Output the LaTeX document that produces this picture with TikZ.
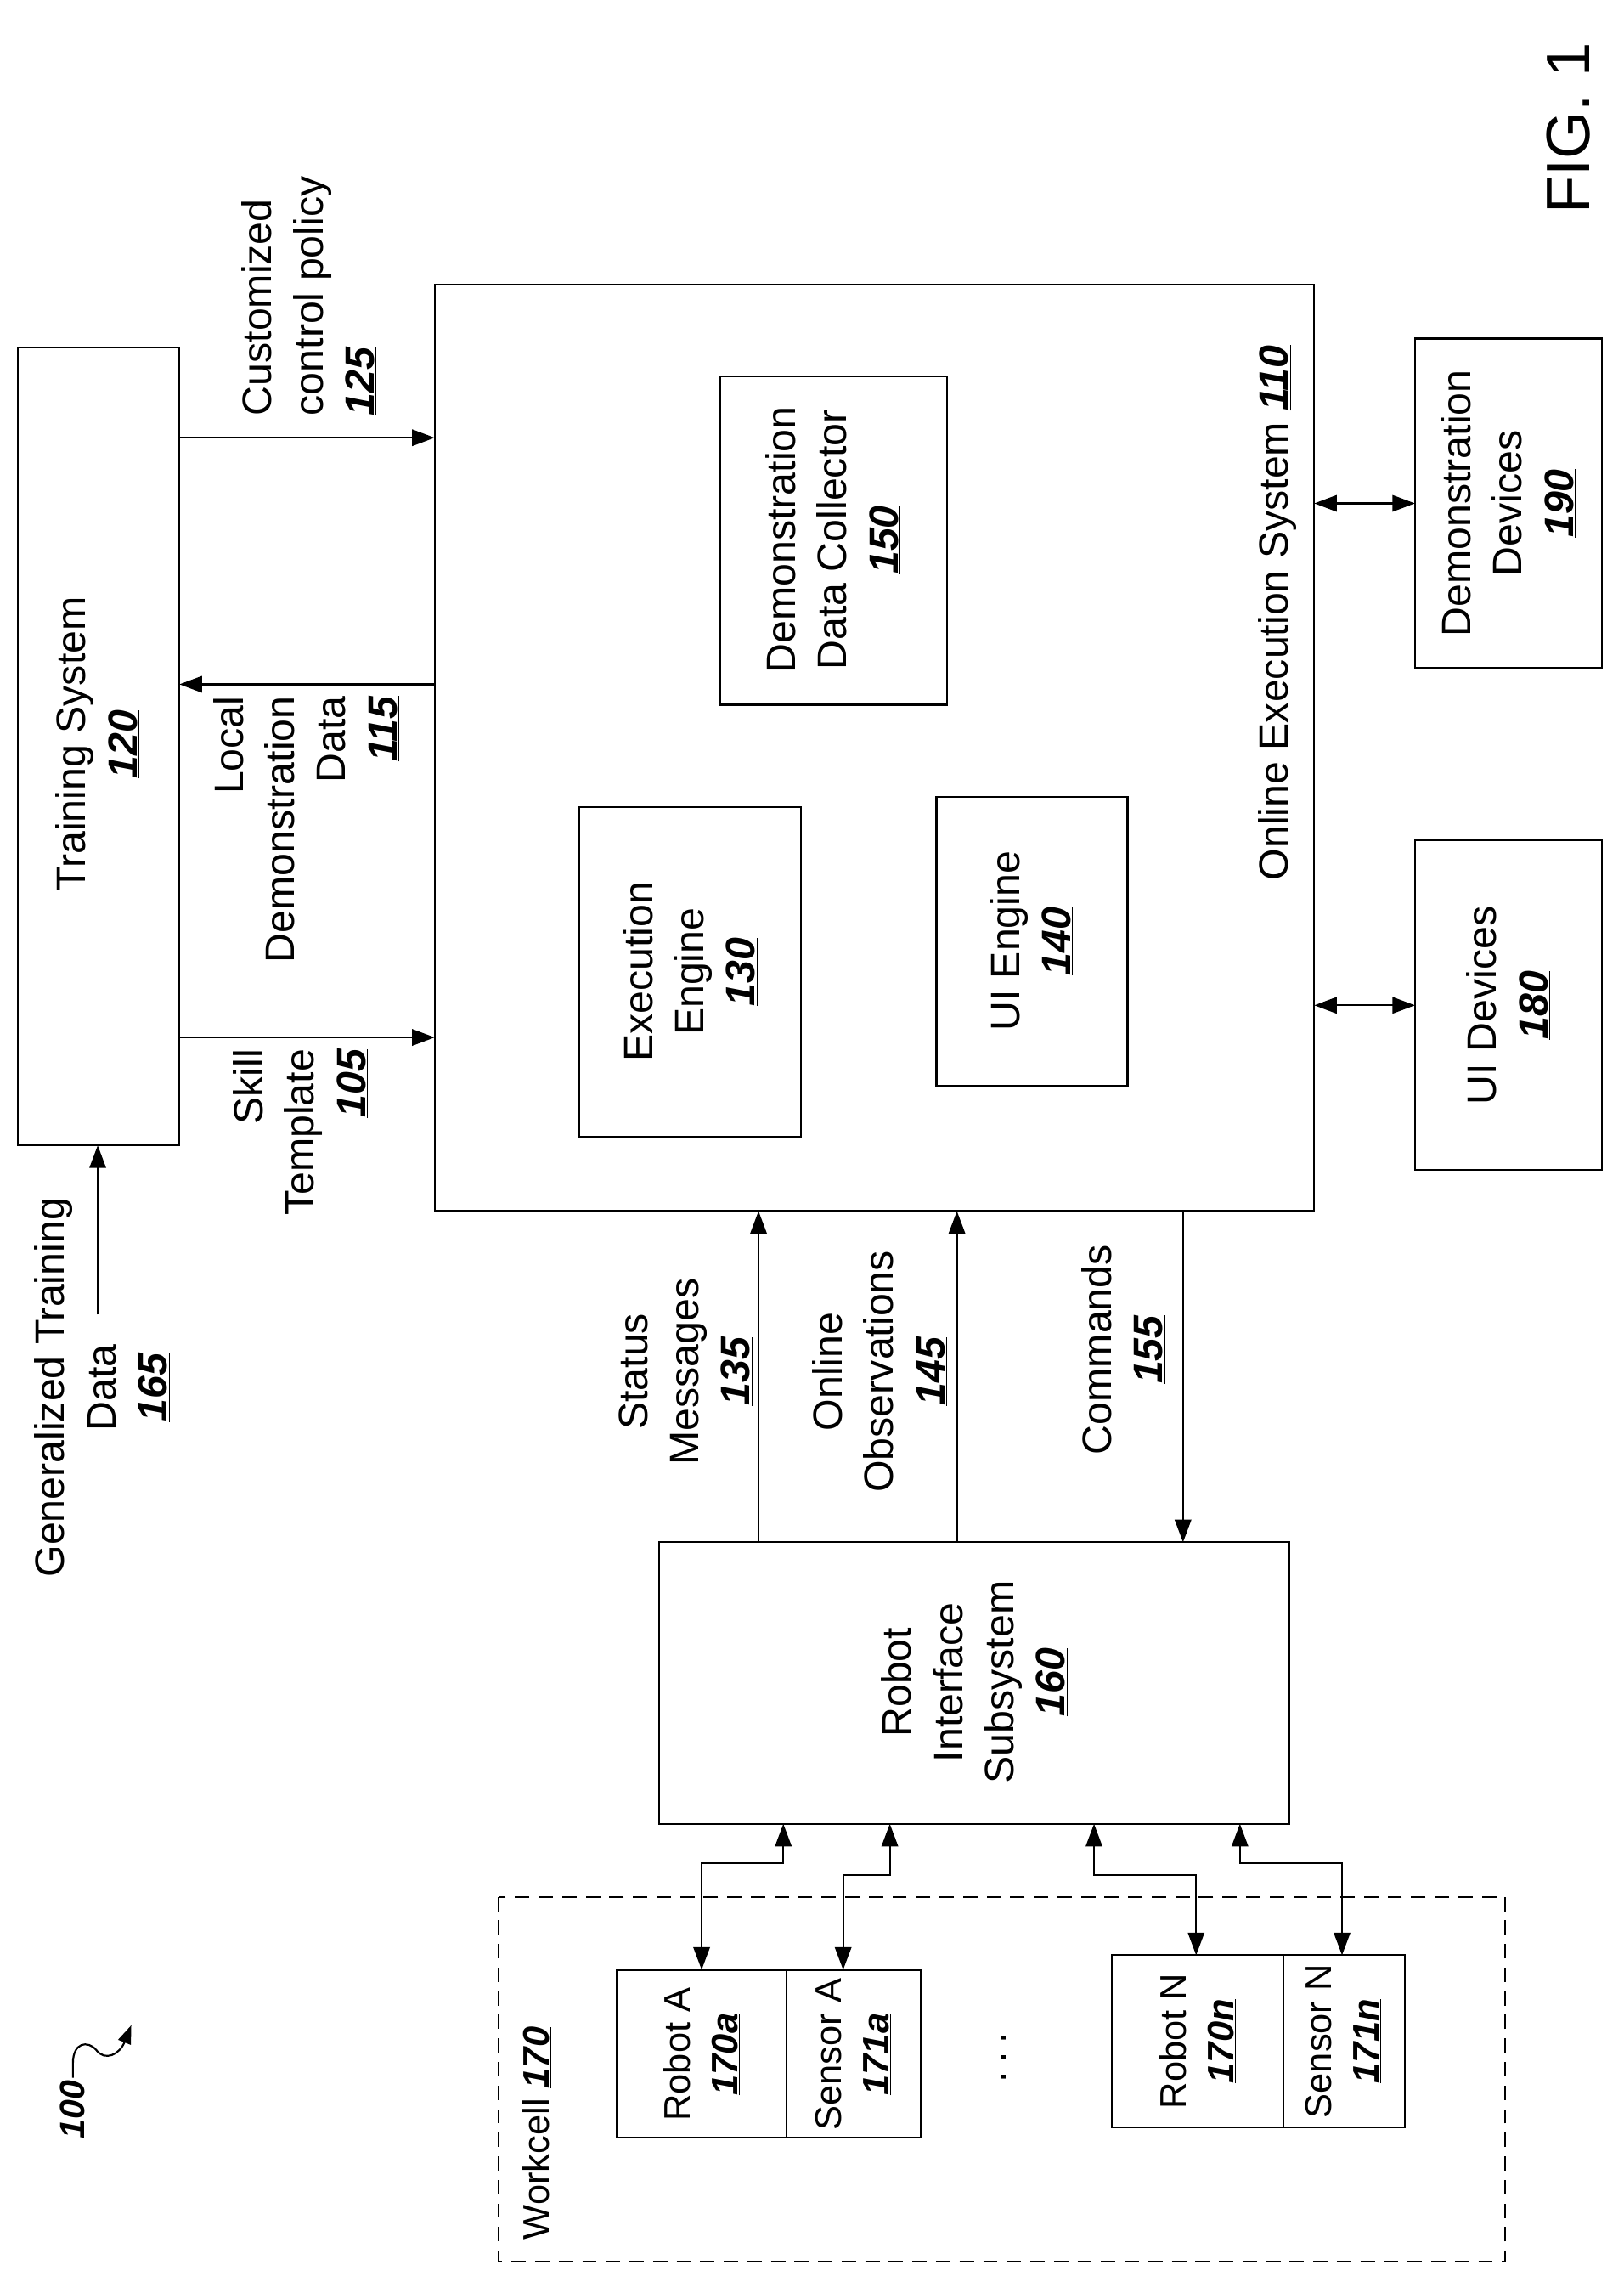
\documentclass[tikz,border=0pt]{standalone}
\usepackage{fontspec}
\setmainfont{Liberation Sans}
\usetikzlibrary{arrows.meta}
\newcommand{\rn}[1]{\textbf{\textit{\underline{#1}}}}
\begin{document}
\begin{tikzpicture}[x=0.05cm,y=-0.05cm,
  lw/.style={line width=1.8pt},
  box/.style={draw,lw},
  lbl/.style={rotate=90,align=center,font=\fontsize{40}{50}\selectfont,inner sep=0pt},
  sml/.style={lbl,font=\fontsize{36}{46}\selectfont},
  arr/.style={lw,-{Triangle[length=22pt,width=16pt]}},
  darr/.style={lw,{Triangle[length=22pt,width=16pt]}-{Triangle[length=22pt,width=16pt]}}]
\useasboundingbox (0,0) rectangle (1113,1564);
\fill[white] (0,0) rectangle (1113,1564);
% boxes
\draw[box] (12,238) rectangle (123,785);
\node[lbl] (ts) at (67,510) {Training System\\\rn{120}};
\draw[box] (298,195) rectangle (901,830);
\node[lbl] (oes) at (876,420) {Online Execution System \rn{110}};
\draw[box] (494,258) rectangle (649,483);
\node[lbl] (ddc) at (571,370) {Demonstration\\Data Collector\\\rn{150}};
\draw[box] (397,553) rectangle (549,779);
\node[lbl] (ee) at (473,666) {Execution\\Engine\\\rn{130}};
\draw[box] (642,546) rectangle (773,744);
\node[lbl] (uie) at (707,645) {UI Engine\\\rn{140}};
\draw[box] (970,232) rectangle (1098,458);
\node[lbl] (dd) at (1034,345) {Demonstration\\Devices\\\rn{190}};
\draw[box] (970,576) rectangle (1098,802);
\node[lbl] (uid) at (1034,689) {UI Devices\\\rn{180}};
\draw[box] (452,1057) rectangle (884,1250);
\node[lbl] (ris) at (668,1153) {Robot\\Interface\\Subsystem\\\rn{160}};
\draw[lw,dash pattern=on 14pt off 9pt] (342,1300) rectangle (1032,1550);
\node[sml] (wc) at (368,1462) {Workcell \rn{170}};
\draw[box] (423,1350) rectangle (539,1465);
\draw[box] (539,1350) rectangle (631,1465);
\draw[box] (762,1340) rectangle (880,1458);
\draw[box] (880,1340) rectangle (963,1458);
\node[sml] (ra) at (481,1408) {Robot A\\\rn{170a}};
\node[sml] (sa) at (585,1408) {Sensor A\\\rn{171a}};
\node[sml] (rnn) at (821,1399) {Robot N\\\rn{170n}};
\node[sml] (snn) at (921,1399) {Sensor N\\\rn{171n}};
\node[lbl] (dots) at (688,1410) {.\hspace{8pt}.\hspace{8pt}.};
% training arrows
\draw[arr] (123,300) -- (298,300);
\draw[arr] (298,469) -- (123,469);
\draw[arr] (123,711) -- (298,711);
\draw[arr] (67,901) -- (67,785);
\node[lbl,align=left,anchor=west] (ccp) at (212,285) {Customized\\control policy\\\rn{125}};
\node[lbl,align=right,anchor=east] (ldd) at (210,477) {Local\\Demonstration\\Data\\\rn{115}};
\node[lbl,align=right,anchor=east] (st) at (206,719) {Skill\\Template\\\rn{105}};
\node[lbl] (gtd) at (70,951) {Generalized Training\\Data\\\rn{165}};
% devices
\draw[darr] (901,345) -- (970,345);
\draw[darr] (901,689) -- (970,689);
% RIS <-> OES
\draw[arr] (520,1057) -- (520,830);
\draw[arr] (656,1057) -- (656,830);
\draw[arr] (811,830) -- (811,1057);
\node[lbl] (sm) at (470,940) {Status\\Messages\\\rn{135}};
\node[lbl] (oo) at (603,940) {Online\\Observations\\\rn{145}};
\node[lbl] (cm) at (770,925) {Commands\\\rn{155}};
% workcell arrows
\draw[darr] (537,1250) -- (537,1277) -- (481,1277) -- (481,1350);
\draw[darr] (610,1250) -- (610,1285) -- (578,1285) -- (578,1350);
\draw[darr] (750,1250) -- (750,1285) -- (820,1285) -- (820,1340);
\draw[darr] (850,1250) -- (850,1277) -- (920,1277) -- (920,1340);
% 100
\node[rotate=90,font=\fontsize{34}{40}\selectfont\bfseries\itshape,inner sep=0pt] (n100) at (50,1446) {100};
\draw[lw,-{Triangle[length=18pt,width=13pt]}] (50,1424) -- (50,1414) .. controls (50,1400) and (60,1398) .. (66,1405) .. controls (72,1413) and (82,1408) .. (90,1388);
\node[rotate=90,font=\fontsize{60}{70}\selectfont,inner sep=0pt] (fig) at (1075,88) {FIG. 1};
\end{tikzpicture}
\end{document}
